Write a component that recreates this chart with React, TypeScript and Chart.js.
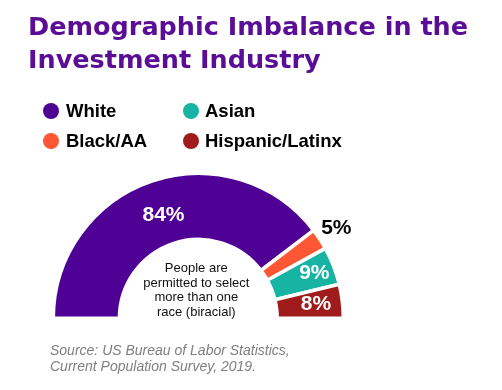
import React, { useEffect, useRef } from "react";
import { Chart, registerables } from "chart.js";

Chart.register(...registerables);

const categories = ["White", "Black/AA", "Asian", "Hispanic/Latinx"];
const values = [84, 5, 9, 8];
const valueLabels = ["84%", "5%", "9%", "8%"];
const colors = ["#4F0095", "#FF5733", "#17B3A3", "#A01C1C"];
const labelColors = ["#ffffff", "#000000", "#ffffff", "#ffffff"];
const labelRadiusFrac = [0.45, 1.3, 0.69, 0.6];
const centerLines = ["People are", "permitted to select", "more than one", "race (biracial)"];
const titleLines = ["Demographic Imbalance in the", "Investment Industry"];
const sourceLines = ["Source: US Bureau of Labor Statistics,", "Current Population Survey, 2019."];

const labelPlugin = {
  id: "sliceLabels",
  afterDatasetsDraw(chart: any) {
    const ctx = chart.ctx;
    const meta = chart.getDatasetMeta(0);
    ctx.save();
    ctx.textAlign = "center";
    ctx.textBaseline = "middle";
    meta.data.forEach((arc: any, i: number) => {
      const p = arc.getProps(["x", "y", "startAngle", "endAngle", "innerRadius", "outerRadius"], true);
      const mid = (p.startAngle + p.endAngle) / 2;
      const r = p.innerRadius + labelRadiusFrac[i] * (p.outerRadius - p.innerRadius);
      ctx.font = "bold 21px 'Liberation Sans', Arial, sans-serif";
      ctx.fillStyle = labelColors[i];
      ctx.fillText(valueLabels[i], p.x + Math.cos(mid) * r, p.y + Math.sin(mid) * r);
    });
    const a0 = meta.data[0];
    if (a0) {
      ctx.font = "13px 'Liberation Sans', Arial, sans-serif";
      ctx.fillStyle = "#111111";
      centerLines.forEach((t, k) => {
        ctx.fillText(t, a0.x - 2, a0.y - 50 + k * 14.7);
      });
    }
    ctx.restore();
  },
};

function ChartCanvas() {
  const ref = useRef<HTMLCanvasElement | null>(null);
  useEffect(() => {
    if (!ref.current) return;
    const chart = new Chart(ref.current, {
      type: "doughnut",
      data: {
        labels: categories,
        datasets: [
          {
            data: values,
            backgroundColor: colors,
            borderColor: "#ffffff",
            borderWidth: 3.5,
            hoverOffset: 0,
          },
        ],
      },
      options: {
        responsive: false,
        animation: false,
        rotation: -90,
        circumference: 180,
        radius: 145,
        cutout: "54.4%",
        layout: { padding: { left: 0, right: 105.4, top: 101.7, bottom: 0 } },
        plugins: {
          legend: { display: false },
          tooltip: { enabled: false },
          title: { display: false },
        },
      },
      plugins: [labelPlugin],
    });
    return () => chart.destroy();
  }, []);
  return (
    <canvas
      ref={ref}
      width={502}
      height={390}
      style={{ position: "absolute", left: 0, top: 0, width: 502, height: 390 }}
    />
  );
}

export default function App() {
  const legendPos = [
    { x: 51, y: 111, tx: 66 },
    { x: 51, y: 141, tx: 66 },
    { x: 191, y: 111, tx: 205 },
    { x: 191, y: 141, tx: 205 },
  ];
  return (
    <div
      style={{
        position: "fixed",
        left: 0,
        top: 0,
        width: 502,
        height: 390,
        background: "#ffffff",
        overflow: "hidden",
      }}
    >
      <ChartCanvas />
      {titleLines.map((t, i) => (
        <div
          key={t}
          style={{
            position: "absolute",
            left: 28,
            top: 9.7 + i * 33,
            height: 33,
            lineHeight: "33px",
            fontFamily: "'DejaVu Sans', sans-serif",
            fontWeight: 700,
            fontSize: 25.5,
            color: "#5A0E96",
            whiteSpace: "nowrap",
          }}
        >
          {t}
        </div>
      ))}
      {categories.map((c, i) => (
        <div
          key={c}
          style={{
            position: "absolute",
            left: legendPos[i].x - 8,
            top: legendPos[i].y - 12,
            height: 24,
            display: "flex",
            alignItems: "center",
            whiteSpace: "nowrap",
          }}
        >
          <span
            style={{
              display: "inline-block",
              width: 16,
              height: 16,
              borderRadius: 8,
              background: colors[i],
            }}
          />
          <span
            style={{
              marginLeft: legendPos[i].tx - legendPos[i].x - 8,
              fontFamily: "'Liberation Sans', Arial, sans-serif",
              fontWeight: 700,
              fontSize: 18.5,
              lineHeight: "24px",
              color: "#000000",
            }}
          >
            {c}
          </span>
        </div>
      ))}
      {sourceLines.map((t, i) => (
        <div
          key={t}
          style={{
            position: "absolute",
            left: 50,
            top: 342 + i * 16,
            lineHeight: "16px",
            fontFamily: "'Liberation Sans', Arial, sans-serif",
            fontStyle: "italic",
            fontSize: 14,
            color: "#7F7F7F",
            whiteSpace: "nowrap",
          }}
        >
          {t}
        </div>
      ))}
    </div>
  );
}
